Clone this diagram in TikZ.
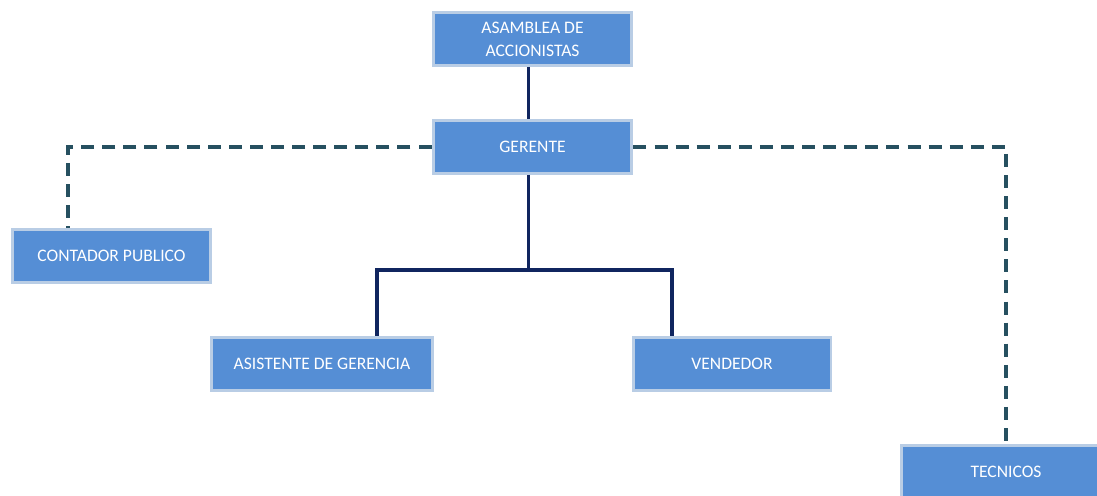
\documentclass[tikz,border=0pt]{standalone}
\usepackage{fontspec}
\setmainfont{Carlito}
\usetikzlibrary{positioning}

\definecolor{boxfill}{RGB}{85,142,213}
\definecolor{boxline}{RGB}{185,205,229}
\definecolor{navyline}{RGB}{16,37,95}
\definecolor{tealline}{RGB}{38,80,96}

\tikzset{
  unitbox/.style={rectangle, fill=boxfill, draw=boxline, line width=1.7pt,
    text=white, font=\fontsize{10}{13}\selectfont, align=center,
    minimum height=1.06cm, inner sep=0pt},
  solidlink/.style={draw=navyline, line width=2.1pt},
  staflink/.style={draw=tealline, line width=2.2pt, dash pattern=on 7.4pt off 4.6pt}
}

\begin{document}
\begin{tikzpicture}[x=0.02cm, y=-0.02cm]
    \useasboundingbox (0,0) rectangle (1097,495);
    %%%%% THE BOXES
    \node[unitbox, minimum width=3.98cm] (asamblea) at (532.5,39) {ASAMBLEA DE\\ACCIONISTAS};
    \node[unitbox, minimum width=3.98cm] (gerente) at (532.5,147) {GERENTE};
    \node[unitbox, minimum width=3.98cm] (contador) at (111.5,255.5) {CONTADOR PUBLICO};
    \node[unitbox, minimum width=4.42cm] (asistente) at (322,364) {ASISTENTE DE GERENCIA};
    \node[unitbox, minimum width=3.96cm] (vendedor) at (732,364) {VENDEDOR};
    \node[unitbox, minimum width=4.20cm] (tecnicos) at (1006,472) {TECNICOS};
    %%%%% LINE OF COMMAND
    \draw[solidlink] ([xshift=-0.08cm]asamblea.south) -- ([xshift=-0.08cm]gerente.north);
    \draw[solidlink] ([xshift=-0.08cm]gerente.south) -- ++(0,95) coordinate (bus);
    \draw[solidlink] (bus) -| ([xshift=1.1cm]asistente.north);
    \draw[solidlink] (bus) -| ([xshift=-1.2cm]vendedor.north);
    %%%%% STAFF LINKS
    \draw[staflink] (gerente.west) -| ([xshift=-0.87cm]contador.north);
    \draw[staflink] (gerente.east) -| (tecnicos.north);
\end{tikzpicture}
\end{document}
